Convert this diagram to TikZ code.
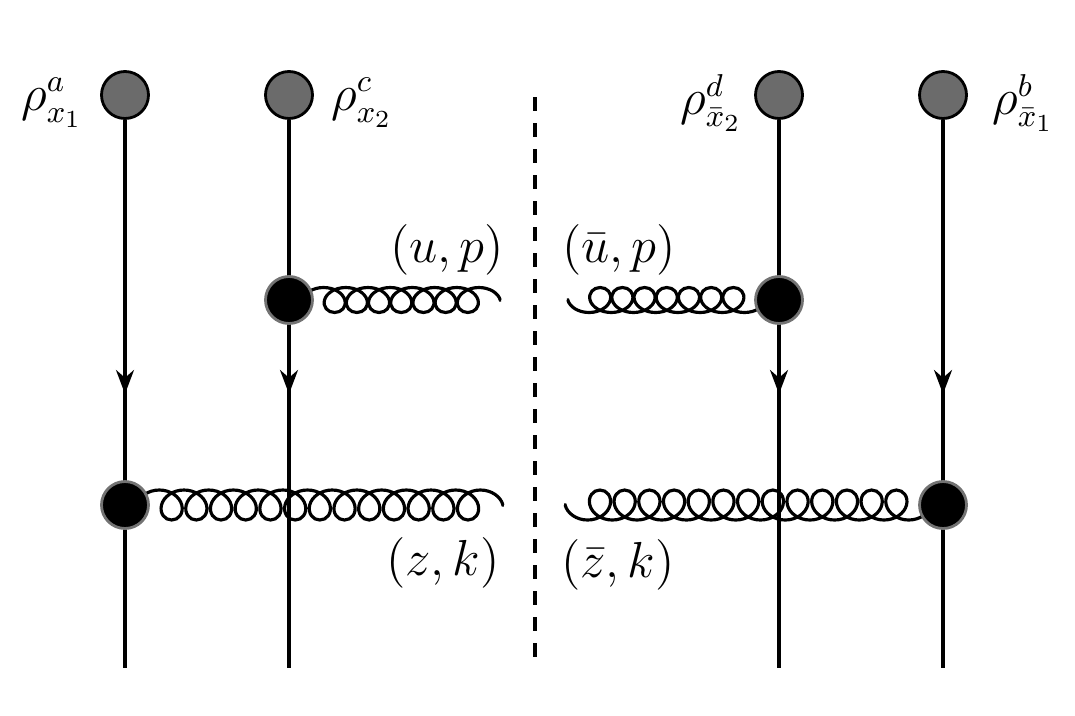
\documentclass[tikz,border=0pt]{standalone}
\usetikzlibrary{arrows.meta,decorations.pathmorphing,decorations.markings,backgrounds}
\tikzset{
  source/.style={circle,draw=black,fill=black!58,thick,minimum size=4.7mm,inner sep=0pt},
  vertex/.style={circle,draw=black!55,fill=black,thick,minimum size=4.7mm,inner sep=0pt},
  quark/.style={line width=0.9pt,postaction={decorate},
    decoration={markings,mark=at position 0.5 with {\arrow{Stealth[length=2.4mm,width=1.8mm]}}}},
  gluon/.style={line width=0.9pt,decorate,decoration={coil}},
  gluonp/.style={gluon,decoration={amplitude=1.25mm,segment length=2.22mm,aspect=1.256}},
  gluonk/.style={gluon,decoration={amplitude=1.5mm,segment length=2.47mm,aspect=1.088}},
}
\begin{document}
\begin{tikzpicture}[font=\fontsize{13.4}{16}\selectfont]
  \useasboundingbox (0,0) rectangle (10.75,7.15);
%sources and line ends
  \node[source] (s1) at (1.25,6.20) {};
  \node[source] (s2) at (2.89,6.20) {};
  \node[source] (s3) at (7.79,6.20) {};
  \node[source] (s4) at (9.43,6.20) {};
  \coordinate (e1) at (1.25,0.47);
  \coordinate (e2) at (2.89,0.47);
  \coordinate (e3) at (7.79,0.47);
  \coordinate (e4) at (9.43,0.47);
  \draw[quark] (s1) -- (e1);
  \draw[quark] (s2) -- (e2);
  \draw[quark] (s3) -- (e3);
  \draw[quark] (s4) -- (e4);
%cut
  \coordinate (c1) at (5.35,6.18);
  \coordinate (c2) at (5.35,0.47);
  \draw[line width=0.9pt,dash pattern=on 4pt off 3.4pt] (c1) -- (c2);
%vertices and gluons
  \node[vertex] (v2) at (2.89,4.15) {};
  \node[vertex] (v3) at (7.79,4.15) {};
  \node[vertex] (v1) at (1.25,2.10) {};
  \node[vertex] (v4) at (9.43,2.10) {};
  \coordinate (g2) at (5.012,4.15);
  \coordinate (g3) at (5.668,4.15);
  \coordinate (g1) at (5.039,2.10);
  \coordinate (g4) at (5.641,2.10);
  \begin{scope}[on background layer]
    \draw[gluonp] ([xshift=1.33mm]v2.center) -- (g2);
    \draw[gluonp] ([xshift=-1.33mm]v3.center) -- (g3);
    \draw[gluonk] ([xshift=1.18mm]v1.center) -- (g1);
    \draw[gluonk] ([xshift=-1.18mm]v4.center) -- (g4);
  \end{scope}
%labels
  \node (l1) at (0.52,6.12) {$\rho^a_{x_1}$};
  \node (l2) at (3.62,6.12) {$\rho^c_{x_2}$};
  \node (l3) at (7.11,6.12) {$\rho^d_{\bar{x}_2}$};
  \node (l4) at (10.23,6.12) {$\rho^b_{\bar{x}_1}$};
  \node (up) at (4.47,4.65) {$(u,p)$};
  \node (ubp) at (6.19,4.65) {$(\bar{u},p)$};
  \node (zk) at (4.43,1.52) {$(z,k)$};
  \node (zbk) at (6.18,1.50) {$(\bar{z},k)$};
\end{tikzpicture}
\end{document}
